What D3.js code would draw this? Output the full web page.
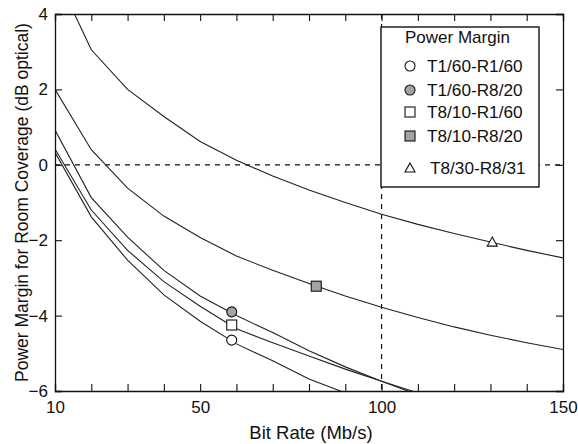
<!DOCTYPE html>
<html lang="en">
<head>
  <meta charset="UTF-8" />
  <title>Power Margin vs Bit Rate</title>
  <script src="https://d3js.org/d3.v7.min.js"></script>
  <style>
    body { margin: 0; background: white; }
    svg { display: block; font-family: "Liberation Sans", Arial, Helvetica, sans-serif; }
    .curve { fill: none; stroke: #222; stroke-width: 1.1px; }
  </style>
</head>
<body>
  <svg id="chart"></svg>

  <script>
    const width = 578;
    const height = 444;
    const margin = { top: 14, right: 15, bottom: 53, left: 55 };

    // bit rates (Mb/s) where each curve was sampled
    const bitRates = [10, 20, 30, 40, 50, 60, 70, 80, 90, 100, 110, 120, 130, 140, 150];

    // power margin (dB optical) per configuration
    const marginT1R1 = [0.33, -1.38, -2.53, -3.45, -4.15, -4.75, -5.2, -5.68, -6.05];
    const marginT1R8 = [0.92, -0.87, -1.92, -2.8, -3.48, -4.0, -4.45, -4.93, -5.36, -5.74, -6.1];
    const marginT8R1 = [0.42, -1.2, -2.27, -3.1, -3.75, -4.35, -4.72, -5.07, -5.42, -5.74, -6.05];
    const marginT8R8 = [2.0, 0.4, -0.62, -1.36, -1.93, -2.42, -2.8, -3.15, -3.48, -3.78, -4.05, -4.3, -4.52, -4.72, -4.9];
    const marginT30R31 = [5.1, 3.05, 2.0, 1.28, 0.62, 0.12, -0.3, -0.67, -1.0, -1.31, -1.58, -1.82, -2.05, -2.27, -2.47];

    const seriesNames = ["T1/60-R1/60", "T1/60-R8/20", "T8/10-R1/60", "T8/10-R8/20", "T8/30-R8/31"];
    const seriesValues = [marginT1R1, marginT1R8, marginT8R1, marginT8R8, marginT30R31];
    const markerShapes = ["circle", "circle", "square", "square", "triangle"];
    const markerFills = ["white", "#a3a3a3", "white", "#a3a3a3", "white"];
    const markerX = [58.7, 58.7, 58.7, 82, 130.5];
    const markerY = [-4.65, -3.9, -4.25, -3.22, -2.05];

    const xTickLabels = [10, 50, 100, 150];

    const svg = d3.select("#chart")
      .attr("width", width)
      .attr("height", height);

    const x = d3.scaleLinear().domain([10, 150]).range([margin.left, width - margin.right]);
    const y = d3.scaleLinear().domain([-6, 4]).range([height - margin.bottom, margin.top]);

    svg.append("clipPath").attr("id", "plot-clip")
      .append("rect")
      .attr("x", x(10)).attr("y", y(4))
      .attr("width", x(150) - x(10)).attr("height", y(-6) - y(4));

    const plot = svg.append("g").attr("clip-path", "url(#plot-clip)");

    // reference lines
    plot.append("line")
      .attr("x1", x(10)).attr("x2", x(150))
      .attr("y1", y(0)).attr("y2", y(0))
      .attr("stroke", "#111").attr("stroke-width", 1.2)
      .attr("stroke-dasharray", "5,5");
    plot.append("line")
      .attr("x1", x(100)).attr("x2", x(100))
      .attr("y1", y(4)).attr("y2", y(-6))
      .attr("stroke", "#111").attr("stroke-width", 1.2)
      .attr("stroke-dasharray", "5,5");

    const line = d3.line()
      .x((d, i) => x(bitRates[i]))
      .y(d => y(d));

    plot.selectAll(".curve")
      .data(seriesValues)
      .enter()
      .append("path")
      .attr("class", "curve")
      .attr("d", line);

    function drawMarker(g, shape, fill, cx, cy) {
      if (shape === "circle") {
        g.append("circle").attr("cx", cx).attr("cy", cy).attr("r", 5)
          .attr("fill", fill).attr("stroke", "#111").attr("stroke-width", 1.1);
      } else if (shape === "square") {
        g.append("rect").attr("x", cx - 5).attr("y", cy - 5).attr("width", 10).attr("height", 10)
          .attr("fill", fill).attr("stroke", "#111").attr("stroke-width", 1.1);
      } else {
        g.append("path")
          .attr("d", `M${cx},${cy - 5}L${cx + 5},${cy + 4}L${cx - 5},${cy + 4}Z`)
          .attr("fill", fill).attr("stroke", "#111").attr("stroke-width", 1.1);
      }
    }

    seriesNames.forEach((name, i) => {
      drawMarker(svg, markerShapes[i], markerFills[i], x(markerX[i]), y(markerY[i]));
    });

    // axes: inward ticks on all four sides
    const xTicks = d3.range(10, 151, 10);
    const yTicks = d3.range(-6, 5, 2);

    svg.append("g")
      .attr("transform", `translate(0,${y(-6)})`)
      .call(d3.axisBottom(x).tickValues(xTicks).tickSize(-7).tickFormat(d => xTickLabels.includes(d) ? d : ""))
      .call(g => g.selectAll("text").attr("dy", "1.12em"));
    svg.append("g")
      .attr("transform", `translate(0,${y(4)})`)
      .call(d3.axisTop(x).tickValues(xTicks).tickSize(-7).tickFormat(""));
    svg.append("g")
      .attr("transform", `translate(${x(10)},0)`)
      .call(d3.axisLeft(y).tickValues(yTicks).tickSize(-7).tickFormat(d3.format("d")))
      .call(g => g.selectAll("text").attr("x", -7));
    svg.append("g")
      .attr("transform", `translate(${x(150)},0)`)
      .call(d3.axisRight(y).tickValues(yTicks).tickSize(-7).tickFormat(""));

    svg.selectAll(".domain").attr("stroke", "#111").attr("stroke-width", 1.3);
    svg.selectAll(".tick line").attr("stroke", "#111").attr("stroke-width", 1.1);
    svg.selectAll(".tick text")
      .attr("fill", "#111")
      .style("font-size", "17px")
      .style("font-family", "'Liberation Sans', Arial, sans-serif");

    // axis titles
    svg.append("text")
      .attr("x", (x(10) + x(150)) / 2 + 2)
      .attr("y", 439)
      .attr("text-anchor", "middle")
      .attr("fill", "#111")
      .style("font-size", "18.5px")
      .text("Bit Rate (Mb/s)");
    svg.append("text")
      .attr("transform", `translate(28,${(y(4) + y(-6)) / 2}) rotate(-90)`)
      .attr("text-anchor", "middle")
      .attr("fill", "#111")
      .style("font-size", "17.5px")
      .text("Power Margin for Room Coverage (dB optical)");

    // legend
    const legend = svg.append("g");
    legend.append("rect")
      .attr("x", 381).attr("y", 27)
      .attr("width", 158).attr("height", 160)
      .attr("fill", "white").attr("stroke", "#111").attr("stroke-width", 1.4);
    legend.append("text")
      .attr("x", 405).attr("y", 43)
      .attr("fill", "#111")
      .style("font-size", "17px")
      .text("Power Margin");

    const legendRows = [72, 96, 118, 142, 174];
    seriesNames.forEach((name, i) => {
      const ry = legendRows[i];
      drawMarker(legend, markerShapes[i], markerFills[i], 410, ry - 6);
      legend.append("text")
        .attr("x", i === 4 ? 430 : 427).attr("y", ry)
        .attr("fill", "#111")
        .style("font-size", "17.2px")
        .text(name);
    });
  </script>
</body>
</html>
